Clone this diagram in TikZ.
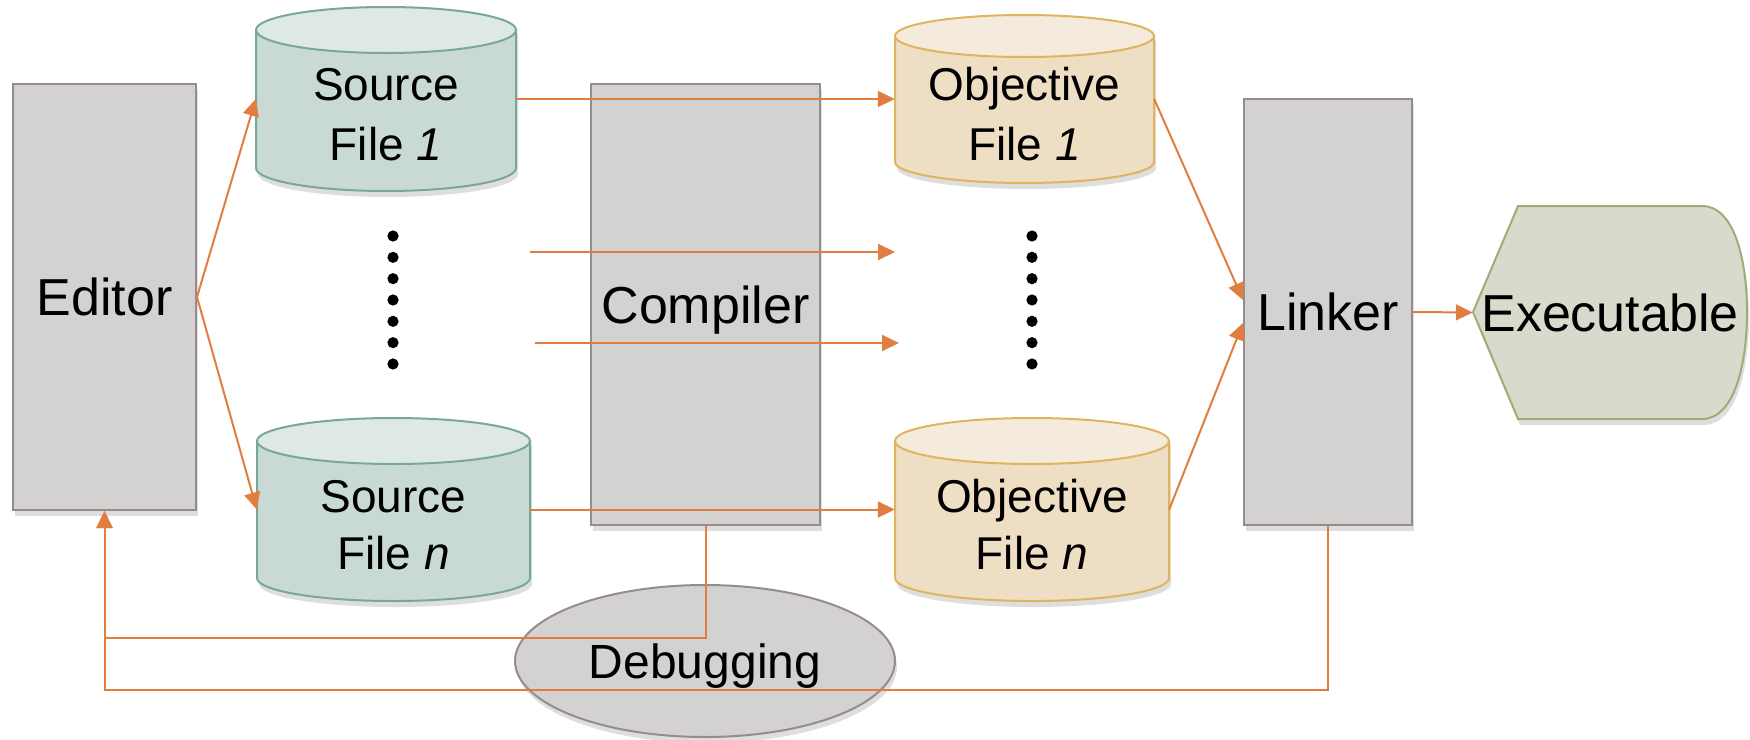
\documentclass[tikz,border=0pt]{standalone}
\usepackage{fontspec}
\setmainfont{Liberation Sans}
\usetikzlibrary{arrows.meta,shapes.geometric,shadows}
\definecolor{boxfill}{RGB}{211,210,209}
\definecolor{boxline}{RGB}{150,140,140}
\definecolor{srcside}{RGB}{201,218,212}
\definecolor{srctop}{RGB}{222,232,228}
\definecolor{srcline}{RGB}{122,168,150}
\definecolor{objside}{RGB}{238,222,195}
\definecolor{objtop}{RGB}{245,235,220}
\definecolor{objline}{RGB}{222,180,95}
\definecolor{exefill}{RGB}{216,218,203}
\definecolor{exeline}{RGB}{160,172,120}
\definecolor{arr}{RGB}{226,125,64}
\newcommand\bigfnt{\fontsize{52}{60}\selectfont}
\newcommand\smallfnt{\fontsize{46}{56}\selectfont}
\newcommand\dbgfnt{\fontsize{48}{56}\selectfont}
% cx rx ytop ybot ry side top border
\newcommand\drawcyl[8]{%
 \fill[black,opacity=0.13,xshift=2pt,yshift=-6pt] (#1-#2,#3+#5) -- (#1-#2,#4-#5) arc[start angle=180,end angle=360,x radius=#2pt,y radius=#5pt] -- (#1+#2,#3+#5) arc[start angle=0,end angle=180,x radius=#2pt,y radius=#5pt] -- cycle;
 \filldraw[fill=#6,draw=#8,line width=2pt] (#1-#2,#3+#5) -- (#1-#2,#4-#5) arc[start angle=180,end angle=360,x radius=#2pt,y radius=#5pt] -- (#1+#2,#3+#5) -- cycle;
 \filldraw[fill=#7,draw=#8,line width=2pt] (#1,#3+#5) ellipse[x radius=#2pt,y radius=#5pt];
}
\tikzset{
 myshadow/.style={drop shadow={shadow xshift=2pt,shadow yshift=-6pt,opacity=0.13,fill=black}},
 proc/.style={rectangle, draw=boxline, fill=boxfill, line width=2pt, inner sep=0pt, font=\bigfnt, text height=37pt, text depth=0pt, myshadow},
 anchorbox/.style={rectangle, inner sep=0pt},
 conn/.style={draw=arr, line width=2pt, -{Triangle[length=17pt,width=16pt]}},
 lbl/.style={font=\smallfnt, anchor=base, inner sep=0pt},
}
\begin{document}
\begin{tikzpicture}[x=1pt,y=-1pt]
\useasboundingbox (0,0) rectangle (1750,739);

% process boxes
\node[proc, minimum width=183pt, minimum height=426pt] (editor) at (104.5,297) {Editor};
\node[proc, minimum width=229pt, minimum height=441pt] (compiler) at (705.5,304.5) {Compiler};
\node[proc, minimum width=168pt, minimum height=426pt] (linker) at (1328,312) {Linker};

% cylinders
\drawcyl{386}{130}{7}{191}{23}{srcside}{srctop}{srcline}
\node[anchorbox, minimum width=260pt, minimum height=184pt] (src1) at (386,99) {};
\node[lbl] (src1a) at (386,100) {Source};
\node[lbl] (src1b) at (386,160) {File \textit{1}};

\drawcyl{393.5}{136.5}{418}{601}{23}{srcside}{srctop}{srcline}
\node[anchorbox, minimum width=273pt, minimum height=183pt] (srcn) at (393.5,509.5) {};
\node[lbl] (srcna) at (393.5,512) {Source};
\node[lbl] (srcnb) at (393.5,569) {File \textit{n}};

\drawcyl{1024.5}{129.5}{15}{183}{21}{objside}{objtop}{objline}
\node[anchorbox, minimum width=259pt, minimum height=168pt] (obj1) at (1024.5,99) {};
\node[lbl] (obj1a) at (1024.5,100) {Objective};
\node[lbl] (obj1b) at (1024.5,160) {File \textit{1}};

\drawcyl{1032}{137}{418}{601}{23}{objside}{objtop}{objline}
\node[anchorbox, minimum width=274pt, minimum height=183pt] (objn) at (1032,509.5) {};
\node[lbl] (objna) at (1032,512) {Objective};
\node[lbl] (objnb) at (1032,569) {File \textit{n}};

% executable
\fill[black,opacity=0.13,xshift=2pt,yshift=-6pt] (1473,312) -- (1518,206) -- (1702,206) .. controls (1735,206) and (1747,262) .. (1747,312) .. controls (1747,362) and (1735,419) .. (1702,419) -- (1518,419) -- cycle;
\filldraw[fill=exefill, draw=exeline, line width=2pt] (1473,312) -- (1518,206) -- (1702,206) .. controls (1735,206) and (1747,262) .. (1747,312) .. controls (1747,362) and (1735,419) .. (1702,419) -- (1518,419) -- cycle;
\node[anchorbox, font=\bigfnt, text height=37pt, text depth=0pt, minimum width=274pt, minimum height=213pt] (exe) at (1610,312.5) {Executable};

% debugging
\node[ellipse, draw=boxline, fill=boxfill, line width=2pt, minimum width=380pt, minimum height=152pt, inner sep=0pt, font=\dbgfnt, text height=34pt, text depth=0pt, myshadow] (debug) at (705,661) {Debugging};

% dots
\foreach \k in {0,...,6} {
  \fill (393,236+21.33*\k) circle (5.6pt);
  \fill (1032,236+21.33*\k) circle (5.6pt);
}

% free ends
\coordinate (m1s) at (530,252);
\coordinate (m1e) at (895,252);
\coordinate (m2s) at (535,343);
\coordinate (m2e) at (899,343);

% connectors
\draw[conn] (editor.east) -- (src1.west);
\draw[conn] (editor.east) -- (srcn.west);
\draw[conn] (src1.east) -- (obj1.west);
\draw[conn] (srcn.east) -- (objn.west);
\draw[conn] (m1s) -- (m1e);
\draw[conn] (m2s) -- (m2e);
\draw[conn] (obj1.east) -- ([yshift=12pt]linker.west);
\draw[conn] (objn.east) -- ([yshift=-11pt]linker.west);
\draw[conn] (linker.east) -- (exe.west);
\draw[conn] (compiler.south) |- (editor.south |- 0,638) -- (editor.south);
\draw[conn] (linker.south) |- (editor.south |- 0,690) -- (editor.south);
\end{tikzpicture}
\end{document}
